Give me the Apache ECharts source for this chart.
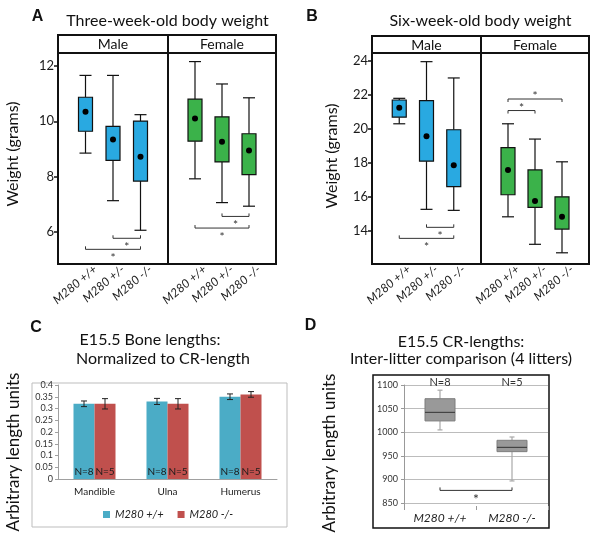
<!DOCTYPE html>
<html><head><meta charset="utf-8">
<script src="https://cdn.jsdelivr.net/npm/echarts@6/dist/echarts.min.js"></script>
<style>html,body{margin:0;padding:0;background:#fff}#c{width:600px;height:540px}</style>
</head><body><div id="c"></div>
<script>
// ---------- DATA ----------
const genotypes = ['M280 +/+', 'M280 +/-', 'M280 -/-'];
// box stats per genotype: [low whisker, Q1, Q3, high whisker, mean]
const aMale   = [[8.85, 9.64, 10.87, 11.66, 10.35], [7.13, 8.59, 9.82, 11.66, 9.34], [6.06, 7.84, 10.01, 10.24, 8.72]];
const aFemale = [[7.92, 9.28, 10.80, 12.16, 10.10], [7.06, 8.53, 10.16, 11.35, 9.26], [6.93, 8.07, 9.55, 10.85, 8.94]];
const bMale   = [[20.30, 20.69, 21.70, 21.80, 21.25], [15.26, 18.10, 21.66, 23.96, 19.57], [15.20, 16.60, 19.95, 23.00, 17.86]];
const bFemale = [[14.82, 16.12, 18.90, 20.30, 17.58], [13.20, 15.37, 17.58, 19.40, 15.75], [12.70, 14.10, 16.00, 18.06, 14.82]];
// significance brackets: [from genotype #, to genotype #, level]
const aMaleSig   = [[2, 3, 5.77], [1, 3, 5.37]];
const aFemaleSig = [[2, 3, 6.56], [1, 3, 6.14]];
const bMaleSig   = [[2, 3, 14.20], [1, 3, 13.55]];
const bFemaleSig = [[1, 3, 21.76], [1, 2, 21.08]];
const aTicks = [6, 8, 10, 12];
const bTicks = [14, 16, 18, 20, 22, 24];
const aRange = [4.84, 12.47];
const bRange = [12.04, 24.47];

const bones = ['Mandible', 'Ulna', 'Humerus'];
const cSeriesNames = ['M280 +/+', 'M280 -/-'];
const cWT    = [0.32, 0.33, 0.35];
const cKO    = [0.32, 0.32, 0.36];
const cWTerr = [0.012, 0.013, 0.012];
const cKOerr = [0.022, 0.022, 0.012];
const cN     = ['N=8', 'N=5'];

const dGroups = ['M280 +/+', 'M280 -/-'];
// [low whisker, Q1, median, Q3, high whisker]
const dBoxes = [[1005, 1024, 1042, 1071, 1089], [897, 959, 968, 983, 990]];
const dN = ['N=8', 'N=5'];
const dSig = [[0, 1, 877]];
const dTicks = [850, 900, 950, 1000, 1050, 1100];
const dRange = [844, 1100];

// ---------- STYLE ----------
const FONT = 'Lato';
const BLUE = '#29a9e1', GREEN = '#3bb24a';
const C_BLUE = '#4bacc6', C_RED = '#c0504d';
const BAR_W = 21;

function boxItem(fill) {
  return function (params, api) {
    const x = api.value(0);
    const lo = api.coord([x, api.value(1)]);
    const q1 = api.coord([x, api.value(2)]);
    const q3 = api.coord([x, api.value(3)]);
    const hi = api.coord([x, api.value(4)]);
    const mn = api.coord([x, api.value(5)]);
    const cx = lo[0], bw = 14, cw = 12;
    const ls = { stroke: '#111', lineWidth: 1.2 };
    return { type: 'group', children: [
      { type: 'line', shape: { x1: cx, y1: hi[1], x2: cx, y2: q3[1] }, style: ls },
      { type: 'line', shape: { x1: cx - cw / 2, y1: hi[1], x2: cx + cw / 2, y2: hi[1] }, style: ls },
      { type: 'line', shape: { x1: cx, y1: q1[1], x2: cx, y2: lo[1] }, style: ls },
      { type: 'line', shape: { x1: cx - cw / 2, y1: lo[1], x2: cx + cw / 2, y2: lo[1] }, style: ls },
      { type: 'rect', shape: { x: cx - bw / 2, y: q3[1], width: bw, height: q1[1] - q3[1] }, style: { fill: fill, stroke: '#111', lineWidth: 1.2 } },
      { type: 'circle', shape: { cx: cx, cy: mn[1], r: 3 }, style: { fill: '#000' } }
    ] };
  };
}
function sigItem(dir, starSize) {
  // dir = 1: star below, ends up ; dir = -1: star above, ends down
  return function (params, api) {
    const p1 = api.coord([api.value(0), api.value(2)]);
    const p2 = api.coord([api.value(1), api.value(2)]);
    const y = p1[1];
    const ls = { stroke: '#333', lineWidth: 1 };
    const t = 3 * -dir;
    return { type: 'group', children: [
      { type: 'line', shape: { x1: p1[0], y1: y, x2: p2[0], y2: y }, style: ls },
      { type: 'line', shape: { x1: p1[0], y1: y, x2: p1[0], y2: y + t }, style: ls },
      { type: 'line', shape: { x1: p2[0], y1: y, x2: p2[0], y2: y + t }, style: ls },
      { type: 'text', x: (p1[0] + p2[0]) / 2, y: dir > 0 ? y + 9 : y - 2.5,
        style: { text: '*', fill: '#333', font: starSize + 'px ' + FONT, textAlign: 'center', textVerticalAlign: 'middle', align: 'center', verticalAlign: 'middle' } }
    ] };
  };
}
function errItem(offset) {
  return function (params, api) {
    const i = api.value(0);
    const top = api.coord([i, api.value(1) + api.value(2)]);
    const bot = api.coord([i, api.value(1) - api.value(2)]);
    const x = top[0] + offset;
    const ls = { stroke: '#222', lineWidth: 1 };
    return { type: 'group', children: [
      { type: 'line', shape: { x1: x, y1: top[1], x2: x, y2: bot[1] }, style: ls },
      { type: 'line', shape: { x1: x - 3, y1: top[1], x2: x + 3, y2: top[1] }, style: ls },
      { type: 'line', shape: { x1: x - 3, y1: bot[1], x2: x + 3, y2: bot[1] }, style: ls }
    ] };
  };
}
function dBoxItem(params, api) {
  const i = api.value(0);
  const lo = api.coord([i, api.value(1)]);
  const q1 = api.coord([i, api.value(2)]);
  const md = api.coord([i, api.value(3)]);
  const q3 = api.coord([i, api.value(4)]);
  const hi = api.coord([i, api.value(5)]);
  const cx = lo[0], bw = 30, cw = 5;
  const ws = { stroke: '#a8a8a8', lineWidth: 1.2 };
  return { type: 'group', children: [
    { type: 'line', shape: { x1: cx, y1: hi[1], x2: cx, y2: q3[1] }, style: ws },
    { type: 'line', shape: { x1: cx - cw / 2, y1: hi[1], x2: cx + cw / 2, y2: hi[1] }, style: ws },
    { type: 'line', shape: { x1: cx, y1: q1[1], x2: cx, y2: lo[1] }, style: ws },
    { type: 'line', shape: { x1: cx - cw / 2, y1: lo[1], x2: cx + cw / 2, y2: lo[1] }, style: ws },
    { type: 'rect', shape: { x: cx - bw / 2, y: q3[1], width: bw, height: q1[1] - q3[1] }, style: { fill: '#999999', stroke: '#7d7d7d', lineWidth: 1 } },
    { type: 'line', shape: { x1: cx - bw / 2, y1: md[1], x2: cx + bw / 2, y2: md[1] }, style: { stroke: '#444', lineWidth: 1.2 } }
  ] };
}

const toBox = arr => arr.map((d, i) => [i + 1, d[0], d[1], d[2], d[3], d[4]]);

function gXAxis(gi) {
  return { type: 'value', gridIndex: gi, min: 0, max: 4,
    axisLine: { show: false }, axisTick: { show: false }, splitLine: { show: false },
    axisLabel: { customValues: [1, 2, 3], formatter: v => genotypes[v - 1] || '', rotate: 40, margin: 12,
      padding: [0, -13, 0, 0],
      fontFamily: FONT, fontStyle: 'italic', fontSize: 12, color: '#1a1a1a' } };
}
function gYAxis(gi, range, ticks, show) {
  return { type: 'value', gridIndex: gi, min: range[0], max: range[1],
    axisLine: { show: false }, splitLine: { show: false },
    axisTick: { show: show, customValues: ticks, length: 4, lineStyle: { color: '#111', width: 1.5 } },
    axisLabel: { show: show, customValues: ticks, margin: 4, fontFamily: FONT, fontSize: 13, color: '#1a1a1a' } };
}
const frame = { show: true, borderColor: '#111', borderWidth: 2 };

function gText(x, y, text, size, extra) {
  return Object.assign({ type: 'text', x: x, y: y,
    style: Object.assign({ text: text, font: size + 'px ' + FONT, fill: '#111', textAlign: 'center', textVerticalAlign: 'middle', align: 'center', verticalAlign: 'middle' }, (extra && extra.style) || {}) },
    extra ? { rotation: extra.rotation || 0 } : {});
}
function letter(x, y, t) {
  return { type: 'text', x: x, y: y, style: { text: t, font: 'bold 16px "Liberation Sans"', fill: '#111', textAlign: 'center', textVerticalAlign: 'middle', align: 'center', verticalAlign: 'middle' } };
}
function strip(x, y, w, h, t) {
  return { type: 'group', children: [
    { type: 'rect', shape: { x: x, y: y, width: w, height: h }, style: { fill: '#fff', stroke: '#111', lineWidth: 2 } },
    { type: 'text', x: x + w / 2, y: y + h / 2 + 0.5, style: { text: t, font: '14px ' + FONT, fill: '#111', textAlign: 'center', textVerticalAlign: 'middle', align: 'center', verticalAlign: 'middle' } }
  ] };
}

const chart = echarts.init(document.getElementById('c'), null, { renderer: 'canvas' });
chart.setOption({
  animation: false,
  backgroundColor: '#fff',
  textStyle: { fontFamily: FONT },
  grid: [
    Object.assign({ left: 58, top: 53, width: 110, height: 211 }, frame),
    Object.assign({ left: 168, top: 53, width: 108, height: 211 }, frame),
    Object.assign({ left: 372, top: 53, width: 109, height: 211 }, frame),
    Object.assign({ left: 481, top: 53, width: 108, height: 211 }, frame),
    { left: 58, top: 385, width: 219, height: 94 },
    { left: 404, top: 385, width: 144, height: 121 }
  ],
  xAxis: [
    gXAxis(0), gXAxis(1), gXAxis(2), gXAxis(3),
    { type: 'category', gridIndex: 4, data: bones,
      axisLine: { lineStyle: { color: '#a0a0a0' } },
      axisTick: { length: 4, lineStyle: { color: '#a0a0a0' } },
      axisLabel: { fontFamily: FONT, fontSize: 10, color: '#222', margin: 8 } },
    { type: 'category', gridIndex: 5, data: dGroups,
      axisLine: { show: false },
      axisTick: { show: true, length: 4, lineStyle: { color: '#999' } },
      axisLabel: { fontFamily: FONT, fontStyle: 'italic', fontSize: 12, color: '#222', margin: 6 } },
    { type: 'category', gridIndex: 5, data: dN, position: 'top',
      axisLine: { show: false }, axisTick: { show: false },
      axisLabel: { fontFamily: FONT, fontSize: 11, color: '#333', margin: -3 } }
  ],
  yAxis: [
    gYAxis(0, aRange, aTicks, true), gYAxis(1, aRange, aTicks, false),
    gYAxis(2, bRange, bTicks, true), gYAxis(3, bRange, bTicks, false),
    { type: 'value', gridIndex: 4, min: 0, max: 0.4, interval: 0.05,
      axisLine: { show: true, lineStyle: { color: '#a0a0a0' } },
      axisTick: { show: true, length: 3, lineStyle: { color: '#a0a0a0' } },
      splitLine: { show: false },
      axisLabel: { fontFamily: FONT, fontSize: 9, color: '#333', margin: 5 } },
    { type: 'value', gridIndex: 5, min: dRange[0], max: dRange[1],
      axisLine: { show: true, lineStyle: { color: '#999' } },
      axisTick: { show: true, customValues: dTicks, length: 3, lineStyle: { color: '#999' } },
      splitLine: { show: true, lineStyle: { color: '#bcbcbc', width: 1 } },
      axisLabel: { customValues: dTicks, formatter: v => String(v), fontFamily: FONT, fontSize: 9, color: '#333', margin: 6 } }
  ],
  legend: { data: cSeriesNames, left: 98, top: 504, icon: 'rect', itemWidth: 7, itemHeight: 7, itemGap: 14,
    textStyle: { fontFamily: FONT, fontStyle: 'italic', fontSize: 11, color: '#222' } },
  series: [
    { type: 'custom', xAxisIndex: 0, yAxisIndex: 0, renderItem: boxItem(BLUE), data: toBox(aMale), encode: { x: 0, y: [1, 2, 3, 4, 5] } },
    { type: 'custom', xAxisIndex: 1, yAxisIndex: 1, renderItem: boxItem(GREEN), data: toBox(aFemale), encode: { x: 0, y: [1, 2, 3, 4, 5] } },
    { type: 'custom', xAxisIndex: 2, yAxisIndex: 2, renderItem: boxItem(BLUE), data: toBox(bMale), encode: { x: 0, y: [1, 2, 3, 4, 5] } },
    { type: 'custom', xAxisIndex: 3, yAxisIndex: 3, renderItem: boxItem(GREEN), data: toBox(bFemale), encode: { x: 0, y: [1, 2, 3, 4, 5] } },
    { type: 'custom', xAxisIndex: 0, yAxisIndex: 0, renderItem: sigItem(1, 12), data: aMaleSig, encode: { x: [0, 1], y: 2 } },
    { type: 'custom', xAxisIndex: 1, yAxisIndex: 1, renderItem: sigItem(1, 12), data: aFemaleSig, encode: { x: [0, 1], y: 2 } },
    { type: 'custom', xAxisIndex: 2, yAxisIndex: 2, renderItem: sigItem(1, 12), data: bMaleSig, encode: { x: [0, 1], y: 2 } },
    { type: 'custom', xAxisIndex: 3, yAxisIndex: 3, renderItem: sigItem(-1, 12), data: bFemaleSig, encode: { x: [0, 1], y: 2 } },
    { name: cSeriesNames[0], type: 'bar', xAxisIndex: 4, yAxisIndex: 4, data: cWT, barWidth: BAR_W, barGap: '0%',
      itemStyle: { color: C_BLUE },
      label: { show: true, position: 'insideBottom', distance: 2, formatter: cN[0], fontFamily: FONT, fontSize: 10, color: '#1a1a1a' } },
    { name: cSeriesNames[1], type: 'bar', xAxisIndex: 4, yAxisIndex: 4, data: cKO, barWidth: BAR_W, barGap: '0%',
      itemStyle: { color: C_RED },
      label: { show: true, position: 'insideBottom', distance: 2, formatter: cN[1], fontFamily: FONT, fontSize: 10, color: '#1a1a1a' } },
    { type: 'custom', xAxisIndex: 4, yAxisIndex: 4, renderItem: errItem(-BAR_W / 2), data: cWT.map((v, i) => [i, v, cWTerr[i]]), encode: { x: 0, y: 1 }, z: 5 },
    { type: 'custom', xAxisIndex: 4, yAxisIndex: 4, renderItem: errItem(BAR_W / 2), data: cKO.map((v, i) => [i, v, cKOerr[i]]), encode: { x: 0, y: 1 }, z: 5 },
    { type: 'custom', xAxisIndex: 5, yAxisIndex: 5, renderItem: dBoxItem, data: dBoxes.map((d, i) => [i].concat(d)), encode: { x: 0, y: [1, 2, 3, 4, 5] } },
    { type: 'custom', xAxisIndex: 5, yAxisIndex: 5, renderItem: sigItem(1, 14), data: dSig, encode: { x: [0, 1], y: 2 } }
  ],
  graphic: [
    letter(37.5, 16.5, 'A'), letter(312, 17, 'B'), letter(36, 328, 'C'), letter(310.5, 326, 'D'),
    gText(167.5, 21, 'Three-week-old body weight', 16),
    gText(480.5, 21, 'Six-week-old body weight', 16),
    strip(58, 35, 110, 18, 'Male'), strip(168, 35, 108, 18, 'Female'),
    strip(372, 36, 109, 17, 'Male'), strip(481, 36, 108, 17, 'Female'),
    gText(13, 154, 'Weight (grams)', 16, { rotation: Math.PI / 2 }),
    gText(332, 156, 'Weight (grams)', 16, { rotation: Math.PI / 2 }),
    gText(150, 340, 'E15.5 Bone lengths:', 16),
    gText(163, 359, 'Normalized to CR-length', 16),
    gText(461, 342, 'E15.5 CR-lengths:', 16),
    gText(461, 359, 'Inter-litter comparison (4 litters)', 16),
    gText(14, 452, 'Arbitrary length units', 17, { rotation: Math.PI / 2 }),
    gText(330, 453, 'Arbitrary length units', 17, { rotation: Math.PI / 2 }),
    { type: 'rect', shape: { x: 32, y: 383, width: 255, height: 144 }, style: { fill: 'none', stroke: '#bdbdbd', lineWidth: 1 } },
    { type: 'rect', shape: { x: 373, y: 375, width: 176, height: 153 }, style: { fill: 'none', stroke: '#111', lineWidth: 1.5 } }
  ]
});
</script>
</body></html>
